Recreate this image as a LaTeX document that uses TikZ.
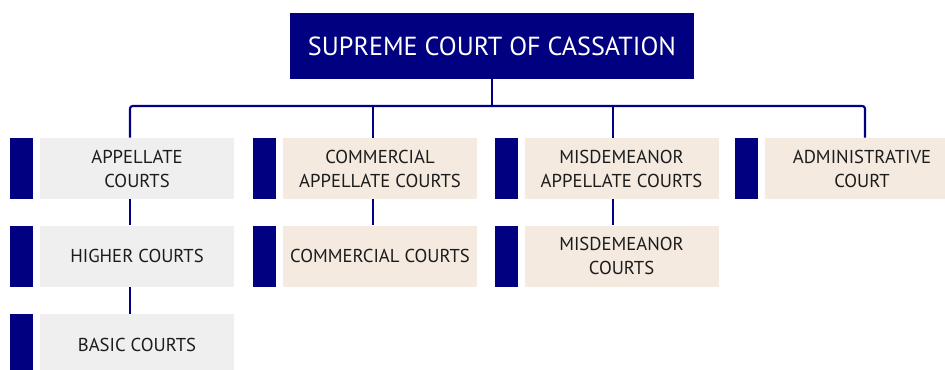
\documentclass[tikz,border=0pt]{standalone}
\usepackage{fontspec}
\setmainfont{PT Sans}
\usepackage{xcolor}
\usetikzlibrary{positioning}
\definecolor{courtnavy}{HTML}{000080}
\definecolor{courtgray}{HTML}{EFEFEF}
\definecolor{courtbeige}{HTML}{F4EAE0}
\definecolor{courttext}{HTML}{1C1C1C}

\begin{document}
\begin{tikzpicture}[x=0.75pt, y=-0.75pt, node distance=19.5pt and 4.5pt,
    court/.style={rectangle, minimum width=145.5pt, minimum height=45.75pt, inner sep=0pt, align=center, text=courttext, font=\fontsize{14}{18}\selectfont},
    bar/.style={rectangle, fill=courtnavy, minimum width=17.25pt, minimum height=45.75pt, inner sep=0pt},
    link/.style={draw=courtnavy, line width=1.6pt}]
    \useasboundingbox (0,0) rectangle (945,370);

    \node[fill=courtnavy, text=white, minimum width=303pt, minimum height=49.5pt, inner sep=0pt, font=\fontsize{19.6}{24}\selectfont] (sc) at (492,46) {SUPREME COURT OF CASSATION};

    \node[court, fill=courtgray] (app) at (137,168.5) {APPELLATE\\COURTS};
    \node[court, fill=courtgray, below=of app] (hig) {HIGHER COURTS};
    \node[court, fill=courtgray, below=20.25pt of hig] (bas) {BASIC COURTS};

    \node[court, fill=courtbeige] (cap) at (380,168.5) {COMMERCIAL\\APPELLATE COURTS};
    \node[court, fill=courtbeige, below=of cap] (com) {COMMERCIAL COURTS};

    \node[court, fill=courtbeige] (map) at (621.5,168.5) {MISDEMEANOR\\APPELLATE COURTS};
    \node[court, fill=courtbeige, below=of map] (mis) {MISDEMEANOR\\COURTS};

    \node[court, fill=courtbeige] (adm) at (862,168.5) {ADMINISTRATIVE\\COURT};

    \node[bar, left=of app] (appbar) {};
    \node[bar, left=of hig] (higbar) {};
    \node[bar, left=of bas] (basbar) {};
    \node[bar, left=of cap] (capbar) {};
    \node[bar, left=of com] (combar) {};
    \node[bar, left=of map] (mapbar) {};
    \node[bar, left=of mis] (misbar) {};
    \node[bar, left=of adm] (admbar) {};

    % the bus under the top court
    \coordinate (bus) at (492,106);
    \draw[link] (sc) -- (bus);
    \draw[link, rounded corners=2pt] ([xshift=-5.25pt]app.north) |- (bus) -| ([xshift=2.25pt]adm.north);
    \draw[link] ([xshift=-5.25pt]cap.north) -- ([xshift=-5.25pt]cap.north |- bus);
    \draw[link] ([xshift=-6.4pt]map.north) -- ([xshift=-6.4pt]map.north |- bus);

    \draw[link] ([xshift=-5.25pt]app.south) -- ([xshift=-5.25pt]hig.north);
    \draw[link] ([xshift=-5.25pt]hig.south) -- ([xshift=-5.25pt]bas.north);
    \draw[link] ([xshift=-5.25pt]cap.south) -- ([xshift=-5.25pt]com.north);
    \draw[link] ([xshift=-6.4pt]map.south) -- ([xshift=-6.4pt]mis.north);
\end{tikzpicture}
\end{document}
